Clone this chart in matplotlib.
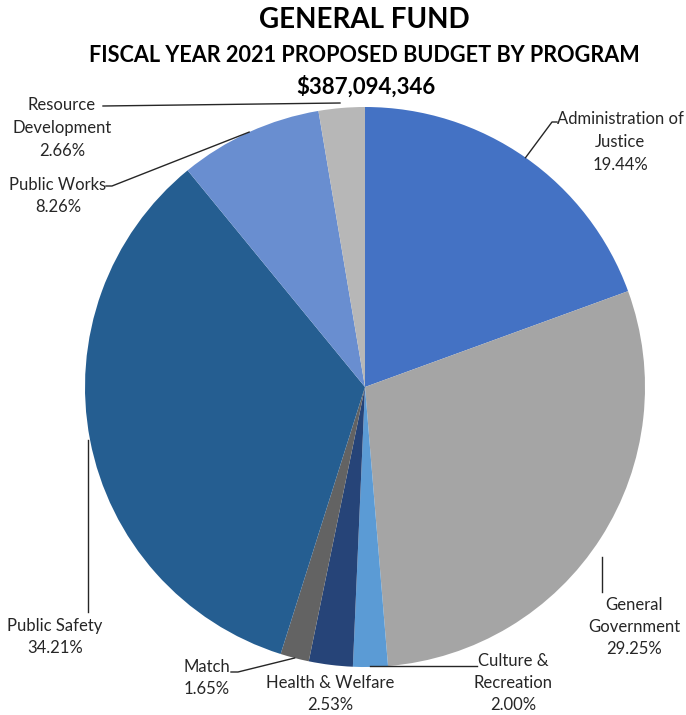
import numpy as np
import matplotlib.pyplot as plt

plt.rcParams['font.family'] = ['Lato', 'DejaVu Sans']

programs = ['Administration of\nJustice', 'General\nGovernment', 'Culture &\nRecreation',
            'Health & Welfare', 'Match', 'Public Safety', 'Public Works',
            'Resource\nDevelopment']
shares = [19.44, 29.25, 2.00, 2.53, 1.65, 34.21, 8.26, 2.66]
colors = ['#4472C4', '#A5A5A5', '#5B9BD5', '#264478', '#636363', '#255E91',
          '#698ED0', '#B7B7B7']

W, H = 686, 715
fig = plt.figure(figsize=(W / 100, H / 100), dpi=100)
ax = fig.add_axes([0, 0, 1, 1])

def py(y):
    # pixel row from the top -> data y
    return H - y

cx, cy, r = 365, 387, 280
wedges, _ = ax.pie(shares, colors=colors, startangle=90, counterclock=False,
                   center=(cx, py(cy)), radius=r,
                   wedgeprops=dict(linewidth=0))
ax.set_xlim(0, W)
ax.set_ylim(0, H)
ax.set_aspect('equal')
ax.axis('off')

# label placement (pixels from top-left): text centre, leader path after the anchor
label_pos = [(620, 142), (634, 627), (513, 683), (330, 694), (207, 678),
             (55, 637), (58, 196), (62, 128)]
leader_mid = [[(552, 122), (557, 122)], [(602, 592)], [(477, 666)], None,
              [(238, 672), (231, 672)], [(88, 612)], [(112, 186), (106, 186)],
              [(103, 106)]]
leader_start = [None, (602, 557), (370, 666), None, None, (88, 440), None, (340, 103)]

for i, w in enumerate(wedges):
    mid = np.deg2rad((w.theta1 + w.theta2) / 2)
    ax_x = cx + r * np.cos(mid)
    ax_y = py(cy) + r * np.sin(mid)
    text = f'{programs[i]}\n{shares[i]:.2f}%'
    tx, ty = label_pos[i]
    ax.text(tx, py(ty), text, ha='center', va='center', fontsize=12,
            color='#262626', linespacing=1.5)
    if leader_mid[i] is not None:
        if leader_start[i] is not None:
            pts = [(leader_start[i][0], py(leader_start[i][1]))]
        else:
            pts = [(ax_x, ax_y)]
        pts += [(x, py(y)) for x, y in leader_mid[i]]
        xs, ys = zip(*pts)
        ax.plot(xs, ys, color='#262626', lw=1.0)

ax.text(364, py(20), 'GENERAL FUND', ha='center', va='center', fontsize=20,
        fontweight='bold', color='black')
ax.text(364, py(55), 'FISCAL YEAR 2021 PROPOSED BUDGET BY PROGRAM', ha='center',
        va='center', fontsize=15.6, fontweight='bold', color='black')
ax.text(366, py(87), '$387,094,346', ha='center', va='center', fontsize=16,
        fontweight='bold', color='black')

plt.savefig('out.png', dpi=100)
